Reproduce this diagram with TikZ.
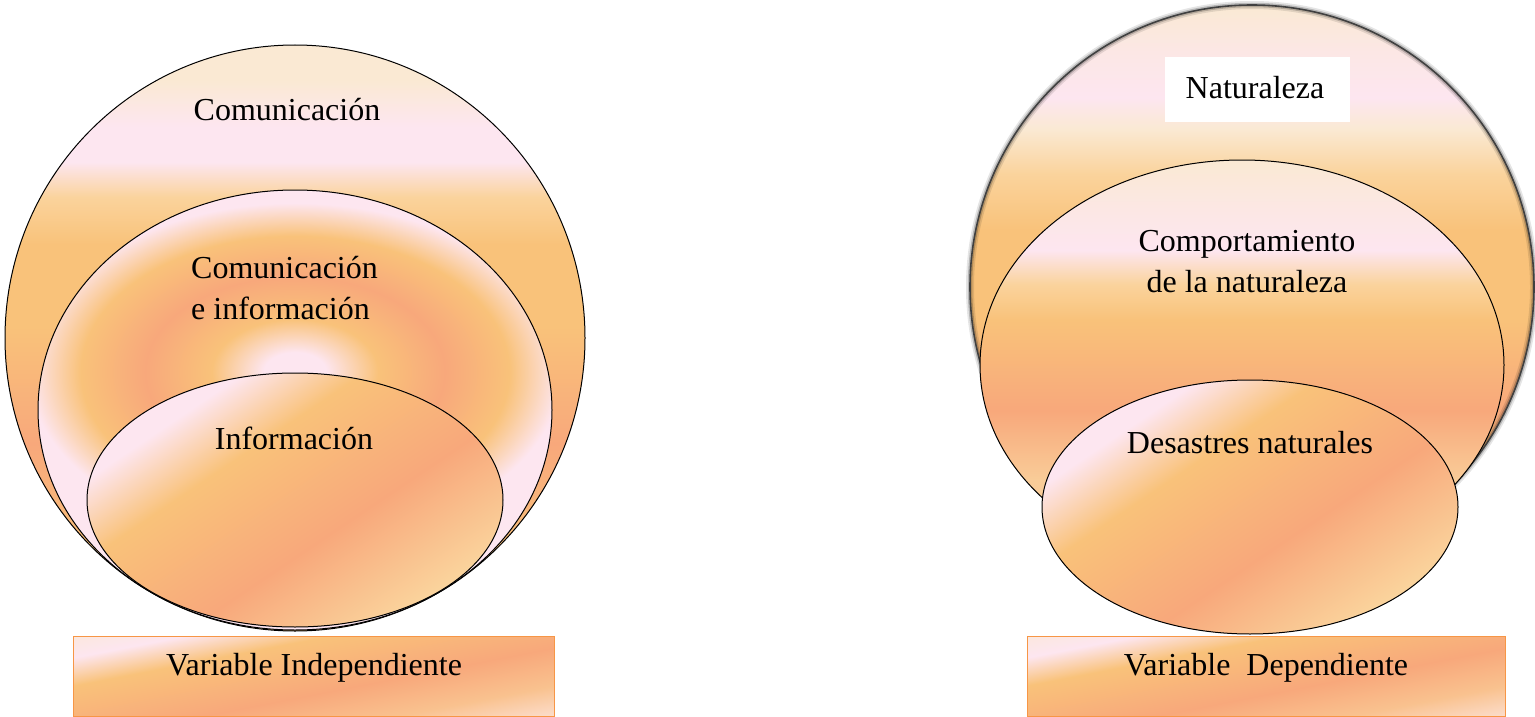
\documentclass[tikz,border=0pt]{standalone}
\usepackage{fontspec}
\setmainfont{Liberation Serif}
\definecolor{cream}{HTML}{FAE9D3}
\definecolor{pinkw}{HTML}{FDE6F0}
\definecolor{orng}{HTML}{F9C27A}
\definecolor{salm}{HTML}{F8A87B}
\definecolor{pale}{HTML}{FAD39C}
\definecolor{peach}{HTML}{F9CC98}
\definecolor{rectborder}{HTML}{F79646}
\pgfdeclareverticalshading{bigL}{100bp}{color(0bp)=(orng); color(25bp)=(orng); color(31bp)=(orng); color(41bp)=(salm); color(51bp)=(orng); color(58bp)=(orng); color(62bp)=(pale); color(65bp)=(pinkw); color(68bp)=(pinkw); color(72bp)=(cream); color(100bp)=(cream)}
\pgfdeclareverticalshading{bigR}{100bp}{color(0bp)=(orng); color(35bp)=(orng); color(39bp)=(salm); color(47bp)=(orng); color(55bp)=(orng); color(60bp)=(pale); color(64bp)=(cream); color(66.8bp)=(pinkw); color(71bp)=(pinkw!60!cream); color(75bp)=(cream); color(100bp)=(cream)}
\pgfdeclareverticalshading{midR}{100bp}{color(0bp)=(peach); color(36bp)=(peach); color(44.4bp)=(salm); color(55.5bp)=(orng); color(59.8bp)=(pale); color(64bp)=(pinkw); color(70bp)=(pinkw!50!cream); color(75bp)=(cream); color(100bp)=(cream)}
\pgfdeclareradialshading{midL}{\pgfpoint{0bp}{0bp}}{color(0bp)=(pinkw); color(1.5bp)=(pinkw); color(4bp)=(orng); color(7.2bp)=(salm); color(10.3bp)=(orng); color(12.8bp)=(pinkw); color(50bp)=(pinkw)}
\pgfdeclareverticalshading{innerg}{100bp}{color(0bp)=(pale); color(34bp)=(pale); color(45bp)=(salm); color(57bp)=(orng); color(64bp)=(pinkw); color(100bp)=(pinkw)}
\pgfdeclareverticalshading{rectg}{100bp}{color(0bp)=(pinkw!60!pale); color(34.4bp)=(pinkw!60!pale); color(40bp)=(pale!60!salm); color(46.7bp)=(salm); color(56.5bp)=(orng); color(61.5bp)=(pinkw); color(67.7bp)=(cream); color(100bp)=(cream)}
\begin{document}
\begin{tikzpicture}[x=1pt,y=-1pt,
  lbl/.style={font=\fontsize{32}{41}\selectfont, inner sep=0pt, align=center},
  outl/.style={draw=black, line width=1pt},
  rectline/.style={draw=rectborder, line width=1pt}]
\useasboundingbox (0,0) rectangle (1535,717);
% ---------- left group ----------
\shadedraw[outl, shading=bigL] (295,338) ellipse [x radius=290pt, y radius=293pt];
\begin{scope}
  \clip (295,410) ellipse [x radius=257pt, y radius=220pt];
  \shade[shading=midL] (295,372) ellipse [x radius=520pt, y radius=330pt];
\end{scope}
\draw[outl] (295,410) ellipse [x radius=257pt, y radius=220pt];
\begin{scope}
  \clip (295,500) ellipse [x radius=208pt, y radius=127pt];
  \shade[shading=innerg, shading angle=34] (55,260) rectangle (535,740);
\end{scope}
\draw[outl] (295,500) ellipse [x radius=208pt, y radius=127pt];
\begin{scope}
  \clip (73,636) rectangle (554,716);
  \shade[shading=rectg, shading angle=11] (73,556) rectangle (554,796);
\end{scope}
\draw[rectline] (73,636) rectangle (554,716);
% ---------- right group ----------
\shade[shading=bigR] (1252,287) circle [radius=282pt];
\draw[black, opacity=.10, line width=8pt] (1252,287) circle [radius=282pt];
\draw[black, opacity=.20, line width=4.5pt] (1252,287) circle [radius=282pt];
\draw[black!75, line width=1.6pt] (1252,287) circle [radius=282pt];
\shadedraw[outl, shading=midR] (1242,365) ellipse [x radius=262pt, y radius=205pt];
\begin{scope}
  \clip (1250,507) ellipse [x radius=208pt, y radius=127pt];
  \shade[shading=innerg, shading angle=34] (1010,267) rectangle (1490,747);
\end{scope}
\draw[outl] (1250,507) ellipse [x radius=208pt, y radius=127pt];
\fill[white] (1165,57) rectangle (1350,122);
\begin{scope}
  \clip (1027,636) rectangle (1505,716);
  \shade[shading=rectg, shading angle=11] (1027,556) rectangle (1505,796);
\end{scope}
\draw[rectline] (1027,636) rectangle (1505,716);
% ---------- labels ----------
\node[lbl] (comtop) at (287,110) {Comunicación};
\node[lbl, align=left, anchor=west] (comi) at (191,288) {Comunicación\\e información};
\node[lbl] (info) at (294,438) {Información};
\node[lbl] (vi) at (314,668) {Variable Independiente};
\node[lbl] (nat) at (1255,88) {Naturaleza};
\node[lbl] (comp) at (1247,262) {Comportamiento\\de la naturaleza};
\node[lbl] (des) at (1250,443) {Desastres naturales};
\node[lbl] (vd) at (1266,668) {Variable\ \ Dependiente};
\end{tikzpicture}
\end{document}
